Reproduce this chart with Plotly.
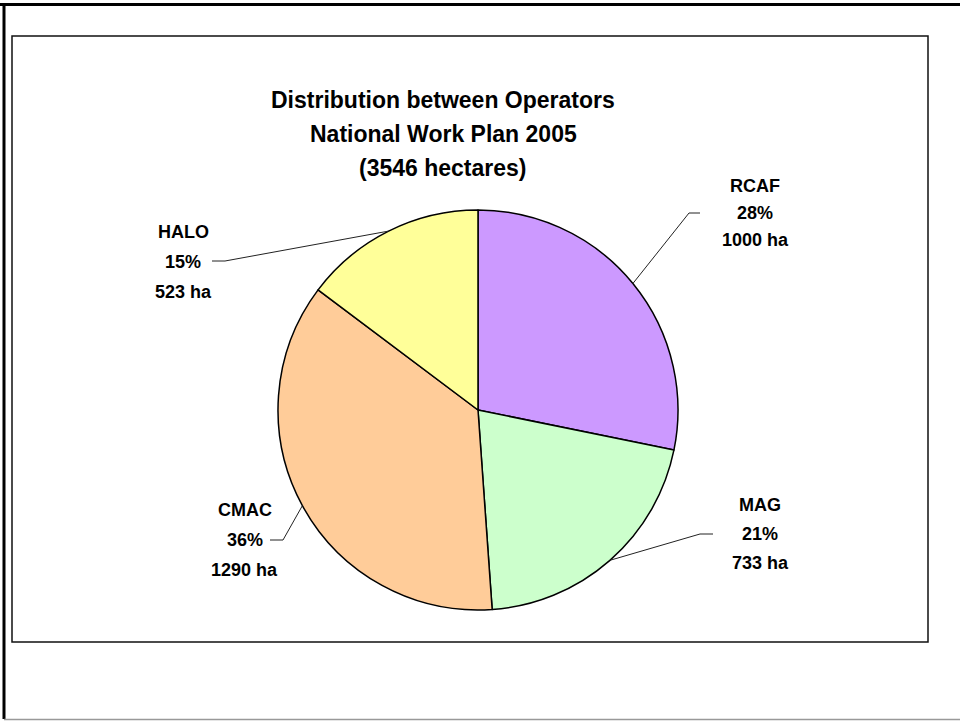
import math
import plotly.graph_objects as go

operators = ["RCAF", "MAG", "CMAC", "HALO"]
hectares = [1000, 733, 1290, 523]
percent_labels = ["28%", "21%", "36%", "15%"]
colors = ["#CC99FF", "#CCFFCC", "#FFCC99", "#FFFF99"]
title_lines = ["Distribution between Operators", "National Work Plan 2005", "(3546 hectares)"]

W, H = 960, 721
CX, CY, R = 478, 410, 200

def px(x):
    return x / W

def py(y):
    return 1 - y / H

fig = go.Figure()
fig.add_trace(go.Pie(
    labels=operators, values=hectares, sort=False, direction="clockwise", rotation=0,
    marker=dict(colors=colors, line=dict(color="black", width=1.5)),
    textinfo="none", hoverinfo="label+value+percent", showlegend=False,
    domain=dict(x=[px(CX - R), px(CX + R)], y=[py(CY + R), py(CY - R)]),
))

FONT = "Liberation Sans, Arial, sans-serif"
annotations = []
for i, t in enumerate(title_lines):
    annotations.append(dict(x=px(443), y=py(100 + i * 34), xref="paper", yref="paper",
                            text=f"<b>{t}</b>", showarrow=False, xanchor="center", yanchor="middle",
                            font=dict(family=FONT, size=23, color="black")))

# label centre, elbow, end of leader (layout positions)
label_pos = {
    "RCAF": dict(cx=755, cy=[186, 213, 240], elbow=(689, 213), end=(700, 213)),
    "MAG": dict(cx=760, cy=[505, 534, 563], elbow=(700, 534), end=(713, 534)),
    "CMAC": dict(cx=245, cy=[510, 540, 570], elbow=(283, 540), end=(270, 540)),
    "HALO": dict(cx=183, cy=[232, 262, 292], elbow=(225, 261), end=(212, 261)),
}

shapes = []
total = sum(hectares)
cum = 0
for name, val, pct in zip(operators, hectares, percent_labels):
    mid = (cum + val / 2) / total * 2 * math.pi
    cum += val
    sx = CX + R * math.sin(mid)
    sy = CY - R * math.cos(mid)
    lp = label_pos[name]
    ex, ey = lp["elbow"]
    fx, fy = lp["end"]
    shapes.append(dict(type="path", xref="paper", yref="paper",
                       path=f"M {px(sx)},{py(sy)} L {px(ex)},{py(ey)} L {px(fx)},{py(fy)}",
                       line=dict(color="#222222", width=1)))
    for txt, yy in zip([name, pct, f"{val} ha"], lp["cy"]):
        annotations.append(dict(x=px(lp["cx"]), y=py(yy), xref="paper", yref="paper",
                                text=f"<b>{txt}</b>", showarrow=False, xanchor="center", yanchor="middle",
                                font=dict(family=FONT, size=18, color="black")))

# frames
shapes += [
    dict(type="rect", xref="paper", yref="paper", x0=px(12), x1=px(928), y0=py(642), y1=py(36),
         line=dict(color="#111111", width=1.5), layer="below"),
    dict(type="line", xref="paper", yref="paper", x0=0, x1=1, y0=py(4.5), y1=py(4.5),
         line=dict(color="black", width=3)),
    dict(type="line", xref="paper", yref="paper", x0=px(4), x1=px(4), y0=py(719), y1=py(3),
         line=dict(color="black", width=3)),
    dict(type="line", xref="paper", yref="paper", x0=px(4), x1=1, y0=py(719.5), y1=py(719.5),
         line=dict(color="#999999", width=1.5)),
]

fig.update_layout(width=W, height=H, margin=dict(l=0, r=0, t=0, b=0),
                  paper_bgcolor="white", plot_bgcolor="white",
                  annotations=annotations, shapes=shapes)
fig.write_html("out.html", config={"displayModeBar": False},
               post_script="document.body.style.margin='0';document.body.style.overflow='hidden';")
